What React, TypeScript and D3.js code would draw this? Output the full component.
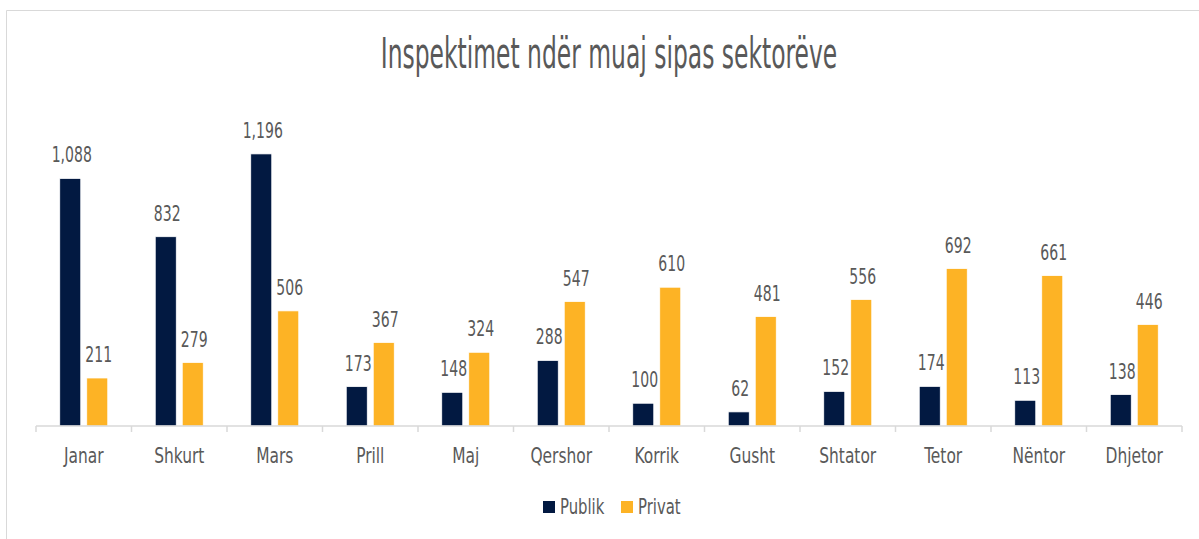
import React from "react";
import * as d3 from "d3";

const months = ["Janar", "Shkurt", "Mars", "Prill", "Maj", "Qershor", "Korrik", "Gusht", "Shtator", "Tetor", "Nëntor", "Dhjetor"];
const publik = [1088, 832, 1196, 173, 148, 288, 100, 62, 152, 174, 113, 138];
const privat = [211, 279, 506, 367, 324, 547, 610, 481, 556, 692, 661, 446];
const seriesNames = ["Publik", "Privat"];
const seriesColors = ["#021941", "#FDB325"];
const title = "Inspektimet ndër muaj sipas sektorëve";

const W = 1199;
const H = 539;
const FONT = "'DejaVu Sans Condensed', 'Liberation Sans Narrow', sans-serif";
const TXT = "#595959";

export default function App() {
  const x = d3.scaleBand<string>().domain(months).range([36, 1182]).paddingInner(0).paddingOuter(0);
  const inner = d3.scaleBand<string>().domain(seriesNames).range([0, x.bandwidth()]).paddingInner(0.222).paddingOuter(0.88);
  const y = d3.scaleLinear().domain([0, 1400]).range([426, 107.5]);
  const fmt = d3.format(",");
  const data = [publik, privat];
  const ticks = months.map((m) => x(m)!).concat([x.range()[1]]);

  return (
    <svg width={W} height={H} style={{ position: "absolute", left: 0, top: 0, background: "#fff" }} fontFamily={FONT}>
      <rect x={0} y={0} width={W} height={H} fill="#fff" />
      <path d={`M6.5,${H}V10.5H${W}`} fill="none" stroke="#d9d9d9" strokeWidth={1} />
      <text transform={`translate(609,68) scale(0.62,1)`} textAnchor="middle" fontSize={42} fill={TXT}>{title}</text>
      {data.map((vals, si) =>
        vals.map((v, i) => {
          const bx = x(months[i])! + inner(seriesNames[si])!;
          const bw = inner.bandwidth();
          return (
            <g key={`${si}-${i}`}>
              <rect x={bx} y={y(v)} width={bw} height={y(0) - y(v)} fill={seriesColors[si]} stroke="#fff" strokeWidth={0.75} />
              <text transform={`translate(${bx + bw / 2 + 1.5},${y(v) - 16}) scale(0.71,1)`} textAnchor="middle" fontSize={22} fill={TXT}>{fmt(v)}</text>
            </g>
          );
        })
      )}
      <line x1={x.range()[0]} x2={x.range()[1]} y1={426} y2={426} stroke="#d9d9d9" strokeWidth={1.5} />
      {ticks.map((t, i) => (
        <line key={i} x1={t} x2={t} y1={426} y2={432} stroke="#d9d9d9" strokeWidth={1.5} />
      ))}
      {months.map((m) => (
        <text key={m} transform={`translate(${x(m)! + x.bandwidth() / 2},463) scale(0.78,1)`} textAnchor="middle" fontSize={22} fill={TXT}>{m}</text>
      ))}
      {seriesNames.map((s, i) => {
        const lx = [543, 621][i];
        return (
          <g key={s}>
            <rect x={lx} y={501} width={12} height={12} fill={seriesColors[i]} />
            <text transform={`translate(${lx + 17},514) scale(0.75,1)`} fontSize={22} fill={TXT}>{s}</text>
          </g>
        );
      })}
    </svg>
  );
}
